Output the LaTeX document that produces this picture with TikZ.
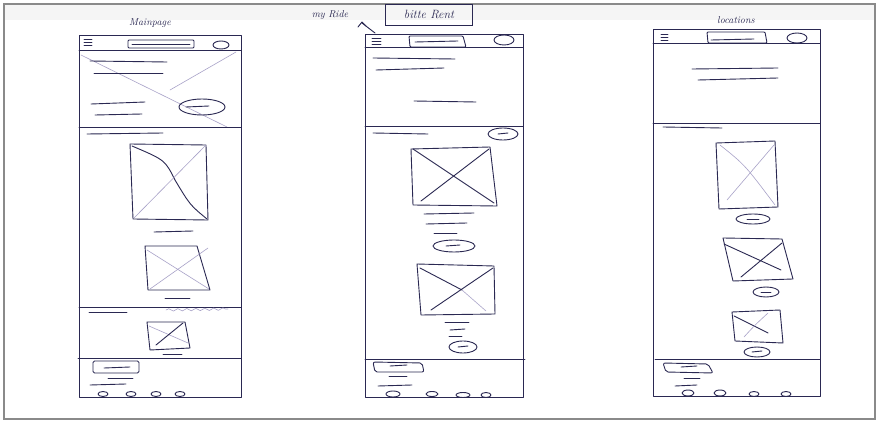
\documentclass[tikz,border=0pt]{standalone}
\usetikzlibrary{decorations.pathmorphing}
\begin{document}
\begin{tikzpicture}[x=1pt,y=-1pt,
  ink/.style={draw=inkc,line width=0.9pt,line cap=round,line join=round},
  faint/.style={draw=faintc,line width=0.6pt,line cap=round},
  lbl/.style={text=inkc,font=\itshape,inner sep=1pt}]
\definecolor{inkc}{HTML}{2A2852}
\definecolor{faintc}{HTML}{A8A2C8}
\definecolor{framec}{HTML}{8A8A8A}
\useasboundingbox (0,0) rectangle (879,422);
\fill[white] (0,0) rectangle (879,422);
\fill[black!4] (5,5) rectangle (874,20);
\draw[framec,line width=1.4pt] (4,4) rectangle (875,419);

% ================= Phone 1 : Mainpage =================
\node[lbl] (t1) at (150,23) {Mainpage};
\draw[ink] (79,35) rectangle (241,397);
\draw[ink] (79,50) -- (241,50);
\draw[ink] (84,39)--(92,39) (84,42)--(92,42) (84,45)--(92,45);
\draw[ink,rounded corners=1pt] (128,40) rectangle (194,48);
\draw[ink] (132,44)--(190,44);
\draw[ink] (221,45) ellipse (8 and 4);
% hero
\draw[faint] (81,55) -- (227,127);
\draw[faint] (236,52) -- (170,90);
\draw[ink] (90,61)--(167,62);
\draw[ink] (94,73)--(163,73);
\draw[ink] (91,104)--(145,102);
\draw[ink] (95,115)--(142,114);
\draw[ink] (202,107) ellipse (23 and 8);
\draw[ink] (186,107)--(209,106);
\draw[ink] (79,127) -- (241,127);
% products
\draw[ink] (87,134)--(163,133);
\draw[ink] (130,144) -- (206,145) -- (208,220) -- (133,219) -- cycle;
\draw[ink] (132,146) .. controls (165,160) .. (175,180) .. controls (190,205) .. (207,219);
\draw[faint] (206,145) -- (134,218);
\draw[ink] (154,232)--(193,231);
\draw[ink] (145,246) -- (197,246) -- (210,290) -- (148,290) -- cycle;
\draw[faint] (147,250) -- (209,289);
\draw[faint] (208,248) -- (150,289);
\draw[ink] (165,298)--(190,298);
% hatched divider
\draw[ink] (79,307)--(241,307);
\draw[faint,decorate,decoration={snake,amplitude=1.2pt,segment length=9pt}] (166,310)--(228,309);
\draw[ink] (89,312)--(127,312);
\draw[ink] (147,322) -- (185,322) -- (190,348) -- (150,350) -- cycle;
\draw[faint] (149,326) -- (188,343);
\draw[ink] (156,345) -- (183,323);
\draw[ink] (163,354)--(182,354);
% footer
\draw[ink] (78,358)--(241,358);
\draw[ink,rounded corners=1.5pt] (93,361) rectangle (139,373);
\draw[ink] (104,368)--(130,367);
\draw[ink] (108,378)--(133,378);
\draw[ink] (90,385)--(126,384);
\draw[ink] (103,394) ellipse (5 and 2.5);
\draw[ink] (131,394) ellipse (5 and 2.5);
\draw[ink] (156,394) ellipse (5 and 2.5);
\draw[ink] (180,394) ellipse (5 and 2.5);

% ================= Phone 2 : my Ride =================
\node[lbl] (t2) at (330,15) {my Ride};
\node[lbl,font=\itshape\large,draw=inkc,line width=0.9pt,minimum width=87pt,minimum height=21pt] (t3) at (429,14.5) {bitte Rent};
\coordinate (c2) at (375,33);
\draw[ink] (c2) -- (362,23);
\draw[ink] (358,27) -- (362,22) -- (366,26);
\draw[ink] (365,34) rectangle (523,397);
\draw[ink] (365,47) -- (523,47);
\draw[ink] (372,38)--(381,38) (372,41)--(381,41) (372,44)--(381,44);
\draw[ink,rounded corners=1pt] (409,36) -- (463,36) -- (466,47) -- (410,47) -- cycle;
\draw[ink] (415,42)--(458,41);
\draw[ink] (504,40) ellipse (10 and 5);
\draw[ink] (373,58)--(455,59);
\draw[ink] (376,70)--(444,68);
\draw[ink] (414,101)--(476,102);
\draw[ink] (365,126) -- (523,126);
\draw[ink] (373,133)--(428,134);
\draw[ink] (503,134) ellipse (15 and 6);
\draw[ink] (498,134)--(508,133);
% image 1
\draw[ink] (411,149) -- (490,147) -- (497,206) -- (413,205) -- cycle;
\draw[ink] (413,149) -- (494,203);
\draw[ink] (489,149) -- (421,201);
\draw[ink] (424,214)--(474,213);
\draw[ink] (426,224)--(467,223);
\draw[ink] (434,233)--(457,233);
\draw[ink] (454,246) ellipse (21 and 6);
\draw[ink] (446,246)--(460,245);
% image 2
\draw[ink] (417,264) -- (494,266) -- (495,314) -- (421,315) -- cycle;
\draw[ink] (420,268) -- (462,290);
\draw[faint] (462,290) -- (486,311);
\draw[ink] (493,268) -- (431,310);
\draw[ink] (445,322)--(469,322);
\draw[ink] (450,330)--(465,329);
\draw[ink] (449,336)--(462,336);
\draw[ink] (463,347) ellipse (14 and 6);
\draw[ink] (458,347)--(468,346);
% footer
\draw[ink] (365,359)--(525,359);
\draw[ink,rounded corners=2pt] (373,362) -- (422,363) -- (424,372) -- (375,372) -- cycle;
\draw[ink] (390,366)--(407,365);
\draw[ink] (389,376)--(407,376);
\draw[ink] (378,386)--(412,385);
\draw[ink] (393,394) ellipse (7 and 3);
\draw[ink] (432,394) ellipse (6 and 2.5);
\draw[ink] (463,395) ellipse (7 and 2.5);
\draw[ink] (486,395) ellipse (5 and 2.5);

% ================= Phone 3 : locations =================
\node[lbl] (t4) at (736,20) {locations};
\draw[ink] (653,29) rectangle (820,396);
\draw[ink] (653,43) -- (820,43);
\draw[ink] (661,34)--(668,34) (661,37)--(668,37) (661,40)--(668,40);
\draw[ink,rounded corners=1pt] (707,32) -- (765,32) -- (767,43) -- (708,43) -- cycle;
\draw[ink] (711,40)--(754,39);
\draw[ink] (797,38) ellipse (10 and 5);
\draw[ink] (692,69)--(778,68);
\draw[ink] (698,80)--(778,78);
\draw[ink] (653,123) -- (820,123);
\draw[ink] (663,127)--(722,128);
% image 1
\draw[ink] (716,143) -- (775,141) -- (778,207) -- (719,209) -- cycle;
\draw[faint] (720,145) .. controls (745,165) .. (775,205);
\draw[faint] (774,145) -- (727,200);
\draw[ink] (753,219) ellipse (17 and 5);
\draw[ink] (747,219)--(759,219);
% image 2
\draw[ink] (723,238) -- (782,239) -- (793,279) -- (733,281) -- cycle;
\draw[ink] (724,244) -- (781,270);
\draw[ink] (782,243) -- (741,277);
\draw[ink] (766,292) ellipse (13 and 5);
\draw[ink] (761,292)--(771,292);
% image 3
\draw[ink] (732,312) -- (780,310) -- (783,343) -- (735,341) -- cycle;
\draw[ink] (734,316) -- (768,333);
\draw[faint] (768,313) .. controls (755,325) .. (744,337);
\draw[ink] (757,352) ellipse (13 and 5);
\draw[ink] (752,352)--(762,351);
% footer
\draw[ink] (655,359)--(820,359);
\draw[ink,rounded corners=2pt] (663,363) -- (708,364) -- (713,373) -- (666,372) -- cycle;
\draw[ink] (681,367)--(697,366);
\draw[ink] (684,378)--(700,378);
\draw[ink] (675,386)--(697,385);
\draw[ink] (688,393) ellipse (6 and 3);
\draw[ink] (720,393) ellipse (6 and 3);
\draw[ink] (754,394) ellipse (5 and 2.5);
\draw[ink] (786,394) ellipse (5 and 2.5);
\end{tikzpicture}
\end{document}
